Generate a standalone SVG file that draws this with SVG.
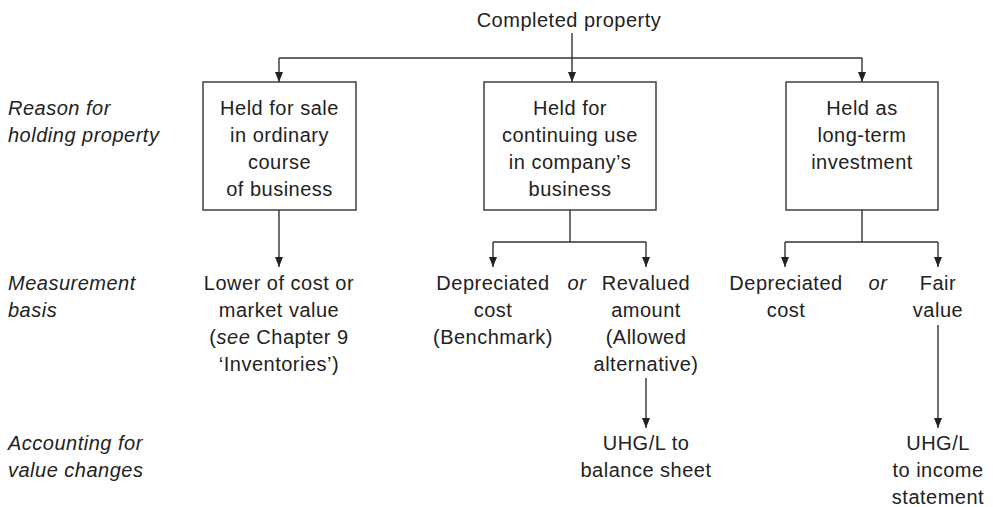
<svg xmlns="http://www.w3.org/2000/svg" width="993" height="507" viewBox="0 0 993 507">
<style>
text{font-family:"Liberation Sans",Arial,Helvetica,sans-serif;font-size:20px;fill:#222;letter-spacing:0.5px}
.c{text-anchor:middle}
.i{font-style:italic}
.box{fill:#fff;stroke:#333;stroke-width:1.4}
.ln{fill:none;stroke:#333;stroke-width:1.4}
</style>
<defs>
<marker id="ah" viewBox="0 0 10 8" refX="10" refY="4" markerWidth="10" markerHeight="8" markerUnits="userSpaceOnUse" orient="auto">
<path d="M0,0 L10,4 L0,8 z" fill="#222"/>
</marker>
</defs>
<rect width="993" height="507" fill="#fff"/>
<g id="labels">
<text class="i" x="8" y="115">Reason for</text>
<text class="i" x="8" y="142">holding property</text>
<text class="i" x="8" y="290">Measurement</text>
<text class="i" x="8" y="317">basis</text>
<text class="i" x="8" y="450">Accounting for</text>
<text class="i" x="8" y="477">value changes</text>
</g>
<g id="connectors">
<path class="ln" d="M572,33 V82" marker-end="url(#ah)"/>
<path class="ln" d="M279,58 H862"/>
<path class="ln" d="M279,58 V82" marker-end="url(#ah)"/>
<path class="ln" d="M862,58 V82" marker-end="url(#ah)"/>
<path class="ln" d="M279,210 V267" marker-end="url(#ah)"/>
<path class="ln" d="M570,210 V242 M493,242 H646"/>
<path class="ln" d="M493,242 V267" marker-end="url(#ah)"/>
<path class="ln" d="M646,242 V267" marker-end="url(#ah)"/>
<path class="ln" d="M862,210 V242 M785,242 H938"/>
<path class="ln" d="M785,242 V267" marker-end="url(#ah)"/>
<path class="ln" d="M938,242 V267" marker-end="url(#ah)"/>
<path class="ln" d="M646,378 V428" marker-end="url(#ah)"/>
<path class="ln" d="M938,325 V428" marker-end="url(#ah)"/>
</g>
<g id="root"><text class="c" x="569" y="27">Completed property</text></g>
<g id="sale">
<rect class="box" x="203" y="82" width="153" height="128"/>
<text class="c" x="279.5" y="115">Held for sale</text>
<text class="c" x="279.5" y="142">in ordinary</text>
<text class="c" x="279.5" y="169">course</text>
<text class="c" x="279.5" y="196">of business</text>
</g>
<g id="use">
<rect class="box" x="484" y="82" width="172" height="128"/>
<text class="c" x="570" y="115">Held for</text>
<text class="c" x="570" y="142">continuing use</text>
<text class="c" x="570" y="169">in company’s</text>
<text class="c" x="570" y="196">business</text>
</g>
<g id="invest">
<rect class="box" x="786" y="82" width="152" height="128"/>
<text class="c" x="862" y="115">Held as</text>
<text class="c" x="862" y="142">long-term</text>
<text class="c" x="862" y="169">investment</text>
</g>
<g id="lower">
<text class="c" x="279" y="290">Lower of cost or</text>
<text class="c" x="279" y="317">market value</text>
<text class="c" x="279" y="344">(<tspan class="i">see</tspan> Chapter 9</text>
<text class="c" x="279" y="371">‘Inventories’)</text>
</g>
<g id="dep1">
<text class="c" x="493" y="290">Depreciated</text>
<text class="c" x="493" y="317">cost</text>
<text class="c" x="493" y="344">(Benchmark)</text>
</g>
<g id="or1"><text class="c i" x="577" y="290">or</text></g>
<g id="reval">
<text class="c" x="646" y="290">Revalued</text>
<text class="c" x="646" y="317">amount</text>
<text class="c" x="646" y="344">(Allowed</text>
<text class="c" x="646" y="371">alternative)</text>
</g>
<g id="dep2">
<text class="c" x="786" y="290">Depreciated</text>
<text class="c" x="786" y="317">cost</text>
</g>
<g id="or2"><text class="c i" x="878" y="290">or</text></g>
<g id="fair">
<text class="c" x="938" y="290">Fair</text>
<text class="c" x="938" y="317">value</text>
</g>
<g id="uhg1">
<text class="c" x="646" y="450">UHG/L to</text>
<text class="c" x="646" y="477">balance sheet</text>
</g>
<g id="uhg2">
<text class="c" x="938" y="450">UHG/L</text>
<text class="c" x="938" y="477">to income</text>
<text class="c" x="938" y="504">statement</text>
</g>
</svg>
